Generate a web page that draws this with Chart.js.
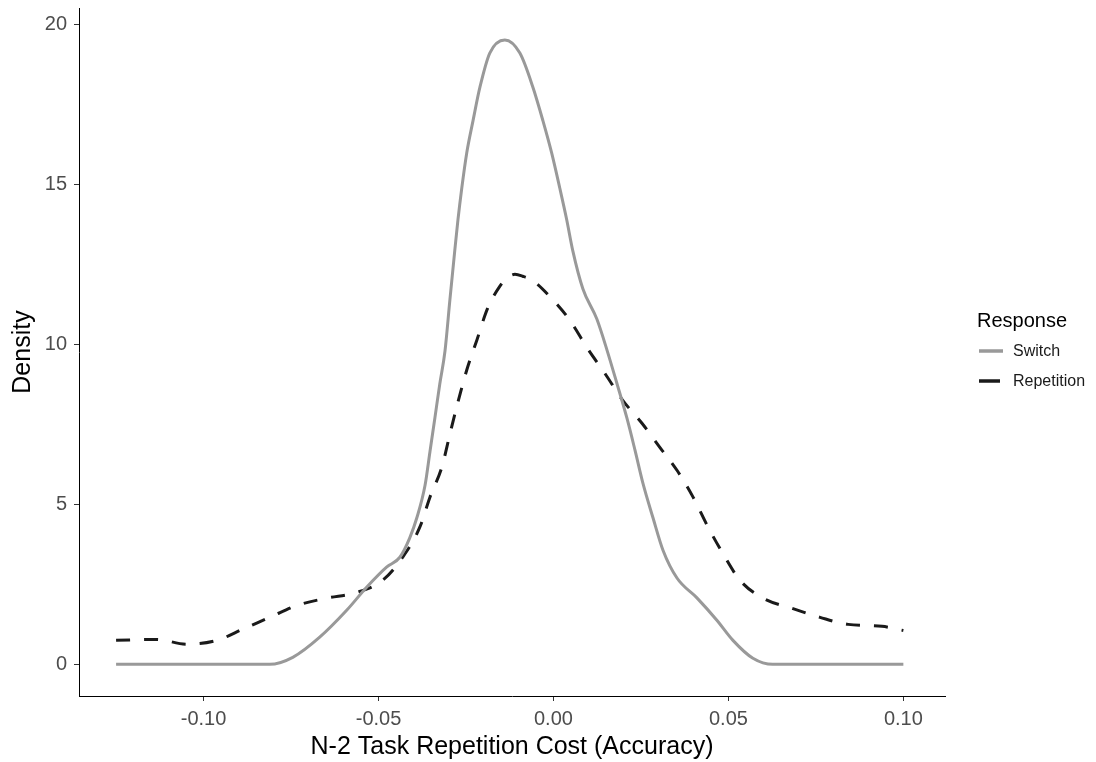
<!DOCTYPE html>
<html>
<head>
<meta charset="utf-8">
<script src="https://cdn.jsdelivr.net/npm/chart.js@4.4.0/dist/chart.umd.min.js"></script>
<style>
  html, body { margin: 0; padding: 0; background: #fff; }
</style>
</head>
<body>
<canvas id="myChart" width="1096" height="762"></canvas>
<script>
// density curves
const switchX = [-0.125, -0.0811, -0.0745, -0.0668, -0.0591, -0.0534, -0.0477, -0.0439, -0.0411, -0.039, -0.0367, -0.0353, -0.0339, -0.0325, -0.031, -0.0296, -0.0282, -0.0273, -0.0262, -0.0248, -0.023, -0.021, -0.0182, -0.0139, -0.0096, -0.0059, -0.003, -0.0005, 0.0018, 0.0038, 0.0055, 0.0084, 0.0124, 0.0153, 0.0181, 0.021, 0.0233, 0.0256, 0.0284, 0.0313, 0.0353, 0.041, 0.0467, 0.0513, 0.057, 0.0627, 0.10];
const switchY = [0, 0, 0.22, 0.85, 1.69, 2.41, 3.04, 3.35, 3.95, 4.6, 5.6, 6.65, 7.7, 8.76, 9.8, 11.4, 12.95, 13.9, 14.9, 15.99, 17.0, 18.06, 19.12, 19.53, 19.12, 18.06, 17.0, 15.99, 14.9, 13.9, 12.95, 11.75, 10.8, 9.83, 8.8, 7.7, 6.7, 5.65, 4.6, 3.57, 2.7, 2.08, 1.38, 0.75, 0.19, 0, 0];

const repX = [-0.125, -0.1134, -0.1048, -0.0962, -0.0888, -0.0805, -0.0731, -0.0648, -0.0562, -0.0488, -0.0431, -0.0382, -0.0353, -0.0319, -0.0296, -0.0273, -0.0248, -0.0219, -0.0188, -0.0153, -0.0133, -0.011, -0.0088, -0.0059, -0.001, 0.0047, 0.0096, 0.0147, 0.0198, 0.0253, 0.0304, 0.0353, 0.0399, 0.0442, 0.0484, 0.0533, 0.0599, 0.0682, 0.0762, 0.0842, 0.0939, 0.10];
const repY = [0.75, 0.78, 0.63, 0.75, 1.10, 1.5, 1.85, 2.07, 2.25, 2.63, 3.35, 4.29, 5.23, 6.17, 7.2, 8.2, 9.2, 10.14, 11.14, 11.83, 12.08, 12.2, 12.14, 12.0, 11.5, 10.76, 9.9, 9.1, 8.26, 7.54, 6.79, 6.07, 5.23, 4.29, 3.47, 2.63, 2.07, 1.75, 1.47, 1.25, 1.19, 1.06];

const seriesNames = ['Switch', 'Repetition'];
const legendTitle = 'Response';
const xTicks = [-0.10, -0.05, 0.00, 0.05, 0.10];
const yTicks = [0, 5, 10, 15, 20];

const FONT = '"Liberation Sans", Arial, sans-serif';

// petite légende à droite, façon ggplot
const sideLegend = {
  id: 'sideLegend',
  afterDraw(chart) {
    const { ctx, chartArea } = chart;
    const x0 = chartArea.right + 32;
    const mid = (chartArea.top + chartArea.bottom) / 2;
    ctx.save();
    ctx.textAlign = 'left';
    ctx.textBaseline = 'middle';
    ctx.fillStyle = '#000';
    ctx.font = '20px ' + FONT;
    ctx.fillText(legendTitle, x0, mid - 31);
    chart.data.datasets.forEach((ds, i) => {
      const y = mid - 1 + i * 30;
      ctx.strokeStyle = ds.borderColor;
      ctx.lineWidth = 3.5;
      ctx.beginPath();
      ctx.moveTo(x0 + 2, y);
      ctx.lineTo(x0 + (i === 0 ? 26 : 23), y);
      ctx.stroke();
      ctx.fillStyle = '#1a1a1a';
      ctx.font = '16px ' + FONT;
      ctx.fillText(ds.label, x0 + 36, y + 1);
    });
    ctx.restore();
  }
};

// pas de marge auto pour les labels de ticks
const noPad = (s) => {
  s.paddingTop = 0;
  s.paddingBottom = 0;
  s.paddingLeft = 0;
  s.paddingRight = 0;
};

const ctx = document.getElementById('myChart');

new Chart(ctx, {
  type: 'line',
  data: {
    datasets: [
      {
        label: seriesNames[0],
        data: switchX.map((x, i) => ({ x: x, y: switchY[i] })),
        borderColor: '#999999',
        borderWidth: 3,
        pointRadius: 0,
        fill: false,
        cubicInterpolationMode: 'monotone'
      },
      {
        label: seriesNames[1],
        data: repX.map((x, i) => ({ x: x, y: repY[i] })),
        borderColor: '#1a1a1a',
        borderWidth: 3,
        borderDash: [14, 14],
        pointRadius: 0,
        fill: false,
        cubicInterpolationMode: 'monotone'
      }
    ]
  },
  options: {
    responsive: false,
    animation: false,
    layout: {
      padding: { top: 8, right: 151, left: 0, bottom: 0 }
    },
    scales: {
      x: {
        type: 'linear',
        min: -0.1356,
        max: 0.1119,
        afterBuildTicks: (s) => { s.ticks = xTicks.map(v => ({ value: v })); },
        afterFit: (s) => { s.height = 66; noPad(s); },
        grid: {
          display: true,
          drawOnChartArea: false,
          drawTicks: true,
          tickLength: 5,
          color: '#333333'
        },
        border: { display: true, color: '#000', width: 1 },
        ticks: {
          color: '#4d4d4d',
          padding: 6,
          maxRotation: 0,
          font: { family: FONT, size: 20 },
          callback: (v) => Number(v).toFixed(2)
        },
        title: {
          display: true,
          text: 'N-2 Task Repetition Cost (Accuracy)',
          color: '#000',
          padding: { top: 0, bottom: 0 },
          font: { family: FONT, size: 25 }
        }
      },
      y: {
        min: -0.99,
        max: 20.53,
        afterBuildTicks: (s) => { s.ticks = yTicks.map(v => ({ value: v })); },
        afterFit: (s) => { s.width = 79; noPad(s); },
        grid: {
          display: true,
          drawOnChartArea: false,
          drawTicks: true,
          tickLength: 5,
          color: '#333333'
        },
        border: { display: true, color: '#000', width: 1 },
        ticks: {
          color: '#4d4d4d',
          padding: 7,
          font: { family: FONT, size: 20 }
        },
        title: {
          display: true,
          text: 'Density',
          color: '#000',
          padding: { top: 8, bottom: 0 },
          font: { family: FONT, size: 25 }
        }
      }
    },
    plugins: {
      legend: { display: false },
      tooltip: { enabled: false }
    }
  },
  plugins: [sideLegend]
});
</script>
</body>
</html>
